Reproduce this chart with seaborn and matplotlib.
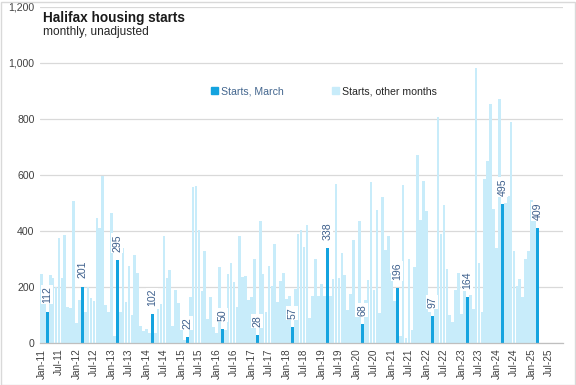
import matplotlib
matplotlib.use("Agg")
import matplotlib.pyplot as plt
from matplotlib.patches import Patch, Rectangle
import seaborn as sns
import pandas as pd

# ── DATA ───────────────────────────────────────────────────
s2011 = [246, 160, 112, 243, 231, 201, 374, 231, 384, 127, 124, 507]
s2012 = [73, 153, 201, 112, 199, 160, 151, 445, 409, 596, 136, 112]
s2013 = [466, 25, 295, 112, 338, 148, 275, 100, 314, 251, 61, 44]
s2014 = [49, 37, 102, 35, 120, 139, 382, 231, 261, 61, 189, 142]
s2015 = [46, 11, 22, 163, 558, 560, 403, 187, 328, 87, 163, 56]
s2016 = [35, 272, 50, 46, 246, 284, 219, 127, 382, 237, 239, 153]
s2017 = [163, 299, 28, 437, 246, 112, 275, 203, 353, 148, 223, 251]
s2018 = [156, 168, 57, 192, 389, 403, 342, 421, 88, 168, 299, 168]
s2019 = [211, 168, 338, 169, 227, 569, 232, 321, 244, 117, 176, 369]
s2020 = [93, 434, 68, 155, 224, 574, 190, 476, 107, 521, 331, 381]
s2021 = [250, 150, 196, 25, 564, 17, 300, 45, 270, 671, 439, 578]
s2022 = [471, 110, 97, 130, 808, 389, 493, 263, 100, 76, 189, 249]
s2023 = [104, 187, 164, 171, 120, 981, 284, 112, 585, 651, 853, 477]
s2024 = [338, 873, 495, 500, 525, 790, 328, 203, 227, 163, 299, 328]
s2025 = [510, 475, 409]

starts = (s2011 + s2012 + s2013 + s2014 + s2015 + s2016 + s2017 + s2018
          + s2019 + s2020 + s2021 + s2022 + s2023 + s2024 + s2025)

all_months = pd.date_range("2011-01-01", "2025-12-01", freq="MS")
month_lbl  = [d.strftime("%b-%y") for d in all_months]

df = pd.DataFrame({"month": month_lbl[:len(starts)], "starts": starts})
df["series"] = ["Starts, March" if d.month == 3 else "Starts, other months"
                for d in all_months[:len(starts)]]

DARK  = "#14A3DF"
LIGHT = "#C8ECFA"
LBL   = "#3D5F8C"

# ── PLOT ───────────────────────────────────────────────────
sns.set_theme(style="white")
plt.rcParams["font.family"] = ["Liberation Sans", "DejaVu Sans"]

fig = plt.figure(figsize=(5.76, 3.85), dpi=100)
ax = fig.add_axes([40/576, 1 - 343/385, 523/576, 336/385])

sns.barplot(data=df, x="month", y="starts", hue="series", order=month_lbl,
            hue_order=["Starts, March", "Starts, other months"],
            palette={"Starts, March": DARK, "Starts, other months": LIGHT},
            dodge=False, width=0.92, saturation=1, legend=False,
            linewidth=0, antialiased=False, ax=ax)

# labels on the March bars
for i, (m, v) in enumerate(zip(df["month"], df["starts"])):
    if df["series"].iloc[i] == "Starts, March":
        ax.annotate(f"{v}", (i, v), xytext=(0, 6), textcoords="offset points",
                    rotation=90, ha="center", va="bottom", fontsize=7.6, color=LBL,
                    bbox=dict(boxstyle="square,pad=0.1", fc="white", ec="none"))

ax.set_ylim(0, 1200)
ax.set_xlim(-0.5, 178.8)
ax.set_yticks(range(0, 1201, 200))
ax.set_yticklabels([f"{t:,}" for t in range(0, 1201, 200)], fontsize=7.6, color="#404040")
ax.set_xticks(range(0, 180, 6))
ax.set_xticklabels(month_lbl[::6], rotation=90, fontsize=7.2, color="#404040")
ax.tick_params(axis="both", length=0, pad=4)
ax.set_xlabel("")
ax.set_ylabel("")

ax.yaxis.grid(True, color="#D9D9D9", linewidth=0.9)
ax.set_axisbelow(True)
for s in ["left", "right", "top"]:
    ax.spines[s].set_visible(False)
ax.spines["bottom"].set_color("#BFBFBF")
ax.spines["bottom"].set_linewidth(0.9)

handles = [Patch(color=DARK, label="Starts, March"),
           Patch(color=LIGHT, label="Starts, other months")]
leg = ax.legend(handles=handles, loc="center", bbox_to_anchor=(0.543, 0.75),
                ncol=2, frameon=False, fontsize=7.6, handlelength=0.7,
                handleheight=0.7, handletextpad=0.3, columnspacing=4.5)
leg.get_texts()[0].set_color("#44678F")
leg.get_texts()[1].set_color("#262626")

fig.text(43/576, 1 - 22/385, "Halifax housing starts", fontsize=9.8,
         fontweight="bold", color="#1A1A1A", va="baseline")
fig.text(43/576, 1 - 35/385, "monthly, unadjusted", fontsize=8.6,
         color="#262626", va="baseline")

fig.patches.append(Rectangle((0.5/576, 0.5/385), 1 - 2/576, 1 - 2/385,
                             transform=fig.transFigure, fill=False,
                             edgecolor="#D9D9D9", linewidth=1))

fig.savefig("out.png", dpi=100)
